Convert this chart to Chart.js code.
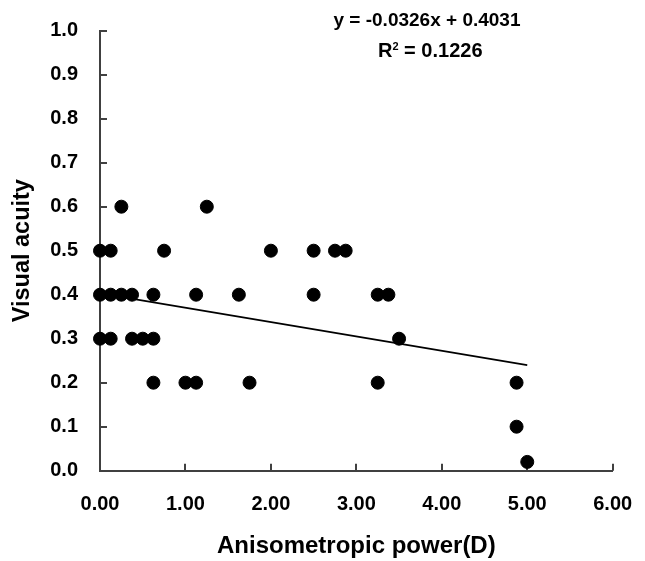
<!DOCTYPE html>
<html>
<head>
<meta charset="utf-8">
<script src="https://cdn.jsdelivr.net/npm/chart.js@4/dist/chart.umd.min.js"></script>
<style>
  html, body { margin: 0; padding: 0; background: #fff; }
  #wrap { width: 645px; height: 561px; position: relative; }
</style>
</head>
<body>
<div id="wrap"><canvas id="c" width="645" height="561"></canvas></div>
<script>
// Anisometropic power (D) for each eye
const powerX = [
  0.25, 1.25,
  0, 0.125, 0.75, 2.0, 2.5, 2.75, 2.875,
  0, 0.125, 0.25, 0.375, 0.625, 1.125, 1.625, 2.5, 3.25, 3.375,
  0, 0.125, 0.375, 0.5, 0.625, 3.5,
  0.625, 1.0, 1.125, 1.75, 3.25, 4.875,
  4.875,
  5.0
];
// Visual acuity
const acuityY = [
  0.6, 0.6,
  0.5, 0.5, 0.5, 0.5, 0.5, 0.5, 0.5,
  0.4, 0.4, 0.4, 0.4, 0.4, 0.4, 0.4, 0.4, 0.4, 0.4,
  0.3, 0.3, 0.3, 0.3, 0.3, 0.3,
  0.2, 0.2, 0.2, 0.2, 0.2, 0.2,
  0.1,
  0.02
];
// Linear trend line endpoints
const trendX = [0, 5.0];
const trendY = [0.403, 0.240];
// Ticks and texts
const xTicks = [0, 1, 2, 3, 4, 5, 6];
const yTicks = [0, 0.1, 0.2, 0.3, 0.4, 0.5, 0.6, 0.7, 0.8, 0.9, 1.0];
const equationText = "y = -0.0326x + 0.4031";
const r2Value = "0.1226";
const xTitle = "Anisometropic power(D)";
const yTitle = "Visual acuity";

const FONT = "'Liberation Sans', Arial, sans-serif";
const TARGET = { left: 100, top: 30.7, right: 612.7, bottom: 470.7 };
const dims = { xAxisH: 90.3, yAxisW: 100 };

const scatterData = powerX.map((x, i) => ({ x: x, y: acuityY[i] }));
const trendData = trendX.map((x, i) => ({ x: x, y: trendY[i] }));

const inwardTicks = {
  id: 'inwardTicks',
  beforeDatasetsDraw(chart) {
    const ctx = chart.ctx;
    const xs = chart.scales.x, ys = chart.scales.y;
    const area = chart.chartArea;
    ctx.save();
    ctx.strokeStyle = '#404040';
    ctx.lineWidth = 2;
    ctx.beginPath();
    yTicks.forEach(v => {
      const p = Math.round(ys.getPixelForValue(v));
      ctx.moveTo(area.left, p);
      ctx.lineTo(area.left + 7, p);
    });
    xTicks.forEach(v => {
      const p = Math.round(xs.getPixelForValue(v));
      ctx.moveTo(p, area.bottom);
      ctx.lineTo(p, area.bottom - 7);
    });
    ctx.stroke();
    ctx.restore();
  }
};

const equation = {
  id: 'equation',
  afterDraw(chart) {
    const ctx = chart.ctx;
    ctx.save();
    ctx.fillStyle = '#000';
    ctx.textBaseline = 'alphabetic';
    ctx.font = "bold 19px " + FONT;
    ctx.textAlign = 'center';
    ctx.fillText(equationText, 427, 26);
    ctx.textAlign = 'left';
    ctx.font = "bold 20px " + FONT;
    let x = 378;
    ctx.fillText('R', x, 56.7);
    x += ctx.measureText('R').width;
    ctx.font = "bold 11px " + FONT;
    ctx.fillText('2', x, 50);
    x += ctx.measureText('2').width;
    ctx.font = "bold 20px " + FONT;
    ctx.fillText(' = ' + r2Value, x, 56.7);
    ctx.restore();
  }
};

const chart = new Chart(document.getElementById('c'), {
  type: 'scatter',
  data: {
    datasets: [
      { label: 'Visual acuity', data: scatterData, backgroundColor: '#000', borderColor: '#000',
        pointRadius: 6.5, pointHoverRadius: 6.5, clip: false, order: 0 },
      { type: 'line', label: 'Trend', data: trendData, borderColor: '#000', borderWidth: 1.6,
        pointRadius: 0, fill: false, clip: false, order: 1 }
    ]
  },
  plugins: [inwardTicks, equation],
  options: {
    responsive: false,
    animation: false,
    events: [],
    layout: { padding: { top: 30.7, right: 32.3, left: 0, bottom: 0 } },
    plugins: { legend: { display: false }, tooltip: { enabled: false } },
    scales: {
      x: {
        type: 'linear', min: 0, max: 6,
        afterFit(s) { s.height = dims.xAxisH; s.paddingLeft = 0; s.paddingRight = 0; },
        afterBuildTicks(s) { s.ticks = xTicks.map(v => ({ value: v })); },
        grid: { display: false, drawTicks: false },
        border: { display: true, color: '#404040', width: 2 },
        ticks: { padding: 22, color: '#000', font: { family: FONT, size: 20, weight: 'bold' },
          callback: v => Number(v).toFixed(2), maxRotation: 0 },
        title: { display: true, text: xTitle, color: '#000',
          font: { family: FONT, size: 24, weight: 'bold' }, padding: { top: 0, bottom: 0 } }
      },
      y: {
        type: 'linear', min: 0, max: 1,
        afterFit(s) { s.width = dims.yAxisW; s.paddingTop = 0; s.paddingBottom = 0; },
        afterBuildTicks(s) { s.ticks = yTicks.map(v => ({ value: v })); },
        grid: { display: false, drawTicks: false },
        border: { display: true, color: '#404040', width: 2 },
        ticks: { padding: 22, color: '#000', font: { family: FONT, size: 20, weight: 'bold' },
          callback: v => Number(v).toFixed(1) },
        title: { display: true, text: yTitle, color: '#000',
          font: { family: FONT, size: 23.5, weight: 'bold' }, padding: { top: 8, bottom: 0 } }
      }
    }
  }
});

// Nudge the layout so the plot area lands where the reference has it
for (let i = 0; i < 4; i++) {
  const a = chart.chartArea;
  const p = chart.config.options.layout.padding;
  p.top += TARGET.top - a.top;
  p.right += a.right - TARGET.right;
  dims.xAxisH += a.bottom - TARGET.bottom;
  dims.yAxisW += TARGET.left - a.left;
  chart.update();
}
</script>
</body>
</html>
